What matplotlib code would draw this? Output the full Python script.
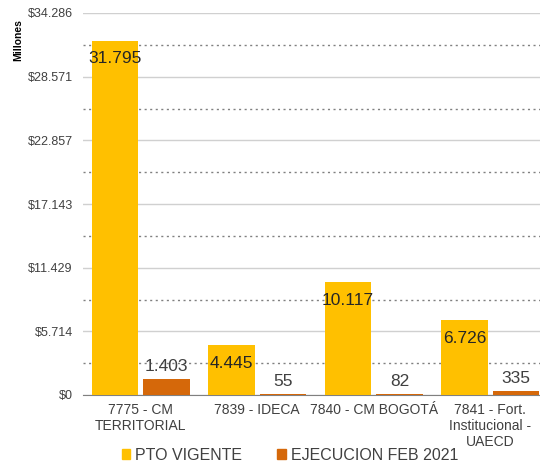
import matplotlib.pyplot as plt
import numpy as np

plt.rcParams['font.family'] = ['Liberation Sans', 'DejaVu Sans']

categories = ["7775 - CM\nTERRITORIAL", "7839 - IDECA", "7840 - CM BOGOTÁ",
              "7841 - Fort.\nInstitucional -\nUAECD"]
pto_vigente = [31795, 4445, 10117, 6726]
ejecucion = [1403, 55, 82, 335]
series_names = ["PTO VIGENTE", "EJECUCION FEB 2021"]
y_ticks = [0, 5714, 11429, 17143, 22857, 28571, 34286]

yellow = '#FFC000'
orange = '#D5680A'

fig = plt.figure(figsize=(5.4, 4.62), dpi=100)
ax = fig.add_axes([82.5 / 540, 67 / 462, 466 / 540, 382 / 462])

x = np.arange(len(categories))
w = 0.40
off = 0.22
b1 = ax.bar(x - off, pto_vigente, w, color=yellow, zorder=3)
b2 = ax.bar(x + off, ejecucion, w, color=orange, zorder=3)

def fmt(v):
    return f"{v:,}".replace(",", ".")

# points per pixel at 100 dpi = 0.72
for rect, v in zip(b1, pto_vigente):
    ax.annotate(fmt(v), (rect.get_x() + rect.get_width() / 2, v),
                xytext=(0, -18 * 0.72), textcoords='offset points',
                ha='center', va='center', fontsize=12.5, color='#262626', zorder=4)
for rect, v in zip(b2, ejecucion):
    ax.annotate(fmt(v), (rect.get_x() + rect.get_width() / 2, v),
                xytext=(0, 13 * 0.72), textcoords='offset points',
                ha='center', va='center', fontsize=12.5, color='#404040', zorder=4)

ax.set_xlim(-0.5, 3.5)
ax.set_ylim(0, 34286)
ax.set_yticks(y_ticks)
ax.set_yticklabels(["$" + fmt(t) for t in y_ticks], fontsize=9, color='#404040')
ax.set_yticks([(a + b) / 2 for a, b in zip(y_ticks[:-1], y_ticks[1:])], minor=True)
ax.grid(axis='y', which='major', color='#d0d0d0', linewidth=1, zorder=0)
ax.grid(axis='y', which='minor', color='#808080', linestyle=(0, (1.5, 2.5)), linewidth=1, zorder=0)
ax.tick_params(axis='y', which='both', length=0, pad=7)
ax.set_xticks(x)
ax.set_xticklabels(categories, fontsize=10, color='#404040', linespacing=1.15)
ax.tick_params(axis='x', length=0, pad=6)
for s in ['top', 'right', 'left']:
    ax.spines[s].set_visible(False)
ax.spines['bottom'].set_color('#808080')

fig.text(18 / 540, 1 - 40 / 462, "Millones", rotation=90, fontsize=7.5,
         fontweight='bold', ha='center', va='center')

handles = [plt.Rectangle((0, 0), 1, 1, color=yellow),
           plt.Rectangle((0, 0), 1, 1, color=orange)]
fig.legend(handles, series_names, loc='center', bbox_to_anchor=(290 / 540, 1 - 455 / 462),
           ncol=2, frameon=False, fontsize=11.5, handlelength=0.55, handleheight=0.55,
           handletextpad=0.3, columnspacing=2.2, labelcolor='#404040')

fig.savefig('out.png', dpi=100)
